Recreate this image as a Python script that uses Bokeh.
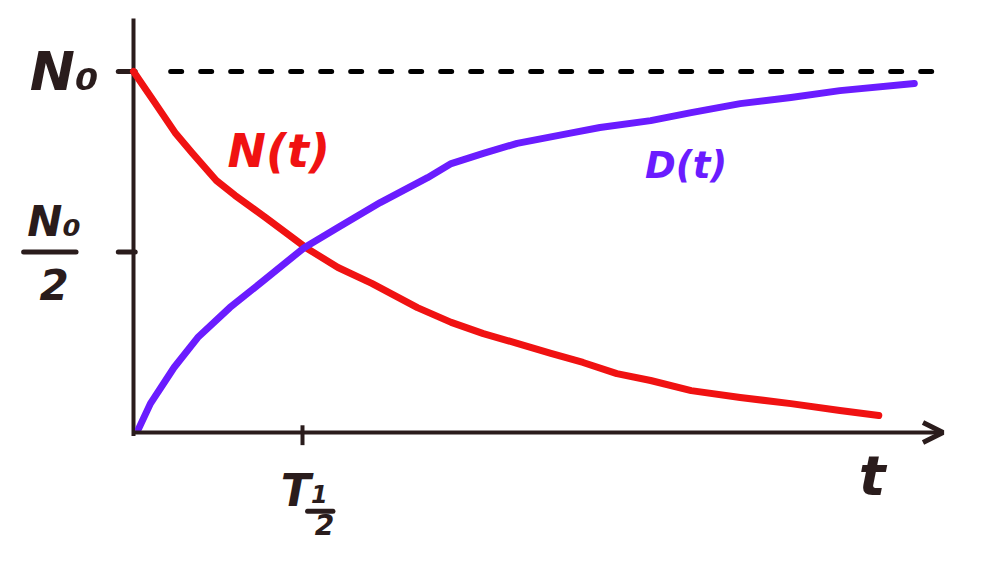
from bokeh.plotting import figure
from bokeh.models import Range1d, Arrow, OpenHead
from bokeh.core.properties import value
from bokeh.embed import file_html
from bokeh.resources import INLINE

# ---- data (t in units of half-life, amounts in units of N0) ----
t_N = [0.00, 0.13, 0.25, 0.35, 0.49, 0.60, 0.78, 1.02, 1.21, 1.41, 1.68, 1.88, 2.07,
       2.27, 2.47, 2.66, 2.86, 3.06, 3.30, 3.59, 3.89, 4.18, 4.41]
N_vals = [1.000, 0.911, 0.828, 0.773, 0.698, 0.657, 0.596, 0.512, 0.457, 0.413, 0.346,
          0.305, 0.274, 0.247, 0.219, 0.194, 0.163, 0.144, 0.116, 0.097, 0.080, 0.061, 0.047]
t_D = [0.03, 0.10, 0.24, 0.38, 0.57, 0.77, 1.01, 1.21, 1.46, 1.74, 1.88, 2.07, 2.27,
       2.57, 2.76, 3.06, 3.30, 3.59, 3.89, 4.18, 4.62]
D_vals = [0.010, 0.080, 0.180, 0.263, 0.346, 0.421, 0.512, 0.568, 0.637, 0.706, 0.745,
          0.773, 0.801, 0.828, 0.845, 0.864, 0.886, 0.911, 0.928, 0.947, 0.967]
y_tick_vals = [1.0, 0.5]
x_tick_vals = [1.0]
series_labels = ["N(t)", "D(t)"]
axis_label_t = "t"

# ---- layout ----
W, H = 965, 555
px_x = 169.0   # pixels per half-life
px_y = 361.0   # pixels per N0
x0 = -133.0 / px_x
y1 = 432.0 / px_y
p = figure(width=W, height=H, output_backend="svg", toolbar_location=None,
           x_range=Range1d(x0, x0 + W / px_x), y_range=Range1d(y1 - H / px_y, y1),
           min_border=0)
p.axis.visible = False
p.grid.visible = False
p.outline_line_color = None
p.background_fill_color = "white"
p.border_fill_color = "white"

INK = "#2a1c1c"
RED = "#f01212"
BLUE = "#6a1cff"
FONT = value("DejaVu Sans")

# dashed N0 level
p.line([0.22, 4.75], [y_tick_vals[0]] * 2, line_color="black", line_width=5,
       line_dash="11 19", line_cap="round")

# axes
p.line([0, 0], [-0.01, 1.147], line_color=INK, line_width=4)
p.add_layout(Arrow(end=OpenHead(size=20, line_width=5, line_color=INK),
                   x_start=0, y_start=0, x_end=4.79, y_end=0,
                   line_color=INK, line_width=4))

# ticks
for yv in y_tick_vals:
    p.line([-0.09, 0.01], [yv, yv], line_color=INK, line_width=5, line_cap="round")
for xv in x_tick_vals:
    p.line([xv, xv], [0.02, -0.035], line_color=INK, line_width=4)

# curves
p.line(t_N, N_vals, line_color=RED, line_width=7, line_cap="round", line_join="round")
p.line(t_D, D_vals, line_color=BLUE, line_width=7, line_cap="round", line_join="round")

# labels
def txt(x, y, s, size, color=INK, style="bold italic"):
    p.text(x=[x], y=[y], text=[s], text_font=FONT, text_font_size=f"{size}px",
           text_font_style=style, text_color=color, text_align="center",
           text_baseline="middle")

# N0 at top
txt(-0.41, 1.00, "N₀", 54)
# N0 / 2
txt(-0.47, 0.585, "N₀", 42)
p.line([-0.65, -0.34], [0.50, 0.50], line_color=INK, line_width=5, line_cap="round")
txt(-0.47, 0.41, "2", 42)
# T 1/2
txt(0.96, -0.16, "T", 44)
txt(1.10, -0.17, "1", 24)
p.line([1.03, 1.18], [-0.218, -0.218], line_color=INK, line_width=5, line_cap="round")
txt(1.13, -0.255, "2", 28)
# t
txt(4.37, -0.12, axis_label_t, 56)
# series labels
txt(0.86, 0.78, series_labels[0], 46, RED)
txt(3.27, 0.74, series_labels[1], 37, BLUE)

open("out.html", "w").write(file_html(p, INLINE))
